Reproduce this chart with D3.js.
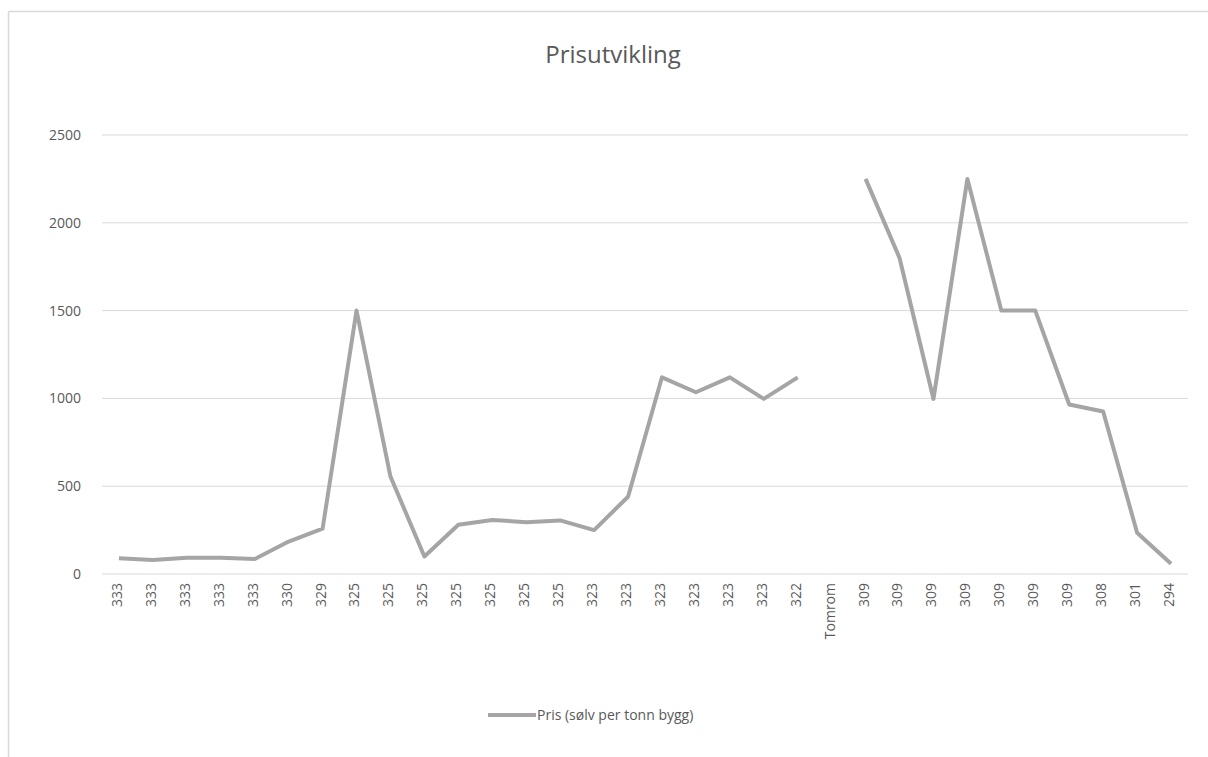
<!DOCTYPE html>
<html>
<head>
<meta charset="utf-8">
<script src="https://cdn.jsdelivr.net/npm/d3@7"></script>
<style>
  body { margin: 0; background: #fff; }
  svg, svg text { font-family: "Open Sans", "Noto Sans", sans-serif; }
  svg { display: block; }
</style>
</head>
<body>
<div class="chart"></div>
<script>
// categories (x labels) and prices, null = gap
var categories = ["333","333","333","333","333","330","329","325","325","325","325","325","325","325",
                  "323","323","323","323","323","323","322","Tomrom","309","309","309","309","309","309","309",
                  "308","301","294"];
var prices = [90, 80, 92, 92, 85, 185, 258, 1500, 555, 100, 280, 308, 295, 305,
              250, 440, 1120, 1035, 1120, 997, 1120, null, 2250, 1800, 997, 2250, 1500, 1500,
              965, 925, 235, 58];
var yTicks = [0, 500, 1000, 1500, 2000, 2500];
var seriesName = "Pris (sølv per tonn bygg)";
var title = "Prisutvikling";

var W = 1208, H = 757;
var margin = {top: 135, right: 20, bottom: 184, left: 102};
var width = 1188 - margin.left,
    height = 574 - margin.top;

var svg = d3.select(".chart").append("svg")
    .attr("width", W)
    .attr("height", H);

// chart frame (only top and left edges visible)
svg.append("line").attr("x1", 8.5).attr("x2", W).attr("y1", 11.5).attr("y2", 11.5)
    .attr("stroke", "#d9d9d9").attr("stroke-width", 1.5);
svg.append("line").attr("x1", 8.5).attr("x2", 8.5).attr("y1", 11.5).attr("y2", H)
    .attr("stroke", "#d9d9d9").attr("stroke-width", 1.5);

var g = svg.append("g")
    .attr("transform", "translate(" + margin.left + "," + margin.top + ")");

var idx = d3.range(categories.length);
var x = d3.scaleBand().domain(idx).range([0, width]);
var y = d3.scaleLinear().domain([0, 2500]).range([height, 0]);

// gridlines
g.append("g").selectAll("line")
    .data(yTicks).enter().append("line")
    .attr("x1", 0).attr("x2", width)
    .attr("y1", function (d) { return y(d); })
    .attr("y2", function (d) { return y(d); })
    .attr("stroke", "#d9d9d9").attr("stroke-width", 1);

// y axis labels
var yAxis = g.append("g")
    .call(d3.axisLeft(y).tickValues(yTicks).tickSize(0).tickPadding(21).tickFormat(d3.format("d")));
yAxis.select(".domain").remove();
yAxis.selectAll("text").style("font-size", "14px").attr("fill", "#595959");

// x axis labels
var xAxis = g.append("g")
    .attr("transform", "translate(0," + height + ")")
    .call(d3.axisBottom(x).tickSize(0).tickFormat(function (i) { return categories[i]; }));
xAxis.select(".domain").remove();
xAxis.selectAll("text")
    .style("font-size", "14px")
    .attr("fill", "#595959")
    .attr("text-anchor", "end")
    .attr("transform", "rotate(-90)")
    .attr("x", -9)
    .attr("y", -2)
    .attr("dy", "0.35em");

// line
var line = d3.line()
    .defined(function (d) { return d != null; })
    .x(function (d, i) { return x(i) + x.bandwidth() / 2; })
    .y(function (d) { return y(d); });

g.append("path")
    .datum(prices)
    .attr("fill", "none")
    .attr("stroke", "#a5a5a5")
    .attr("stroke-width", 4)
    .attr("stroke-linejoin", "round")
    .attr("d", line);

// title
svg.append("text")
    .attr("x", 613).attr("y", 63)
    .attr("text-anchor", "middle")
    .style("font-size", "24px")
    .attr("fill", "#595959")
    .text(title);

// legend
var lg = svg.append("g").attr("transform", "translate(488,715)");
lg.append("line").attr("x1", 0).attr("x2", 48).attr("y1", 0).attr("y2", 0)
    .attr("stroke", "#a5a5a5").attr("stroke-width", 4);
lg.append("text").attr("x", 49).attr("y", 0).attr("dy", "0.35em")
    .style("font-size", "14px").attr("fill", "#595959")
    .text(seriesName);
</script>
</body>
</html>
